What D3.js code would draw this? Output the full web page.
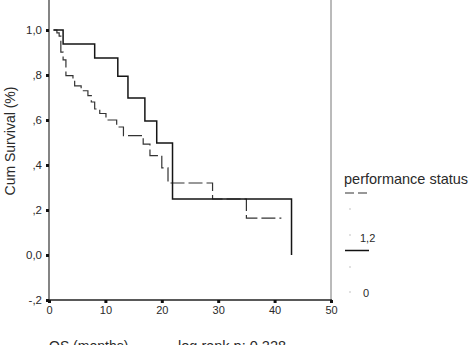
<!DOCTYPE html>
<html>
<head>
<meta charset="utf-8">
<script src="https://cdn.jsdelivr.net/npm/d3@7/dist/d3.min.js"></script>
<style>
  html, body { margin: 0; padding: 0; background: #fff; overflow: hidden; }
  svg { display: block; font-family: "Liberation Sans", Arial, sans-serif; }
</style>
</head>
<body>
<svg id="chart" width="474" height="345"></svg>
<script>
// Kaplan-Meier steps: time of each step (months) and survival after it
const ps0Times = [0.8, 2.5, 8.1, 12.2, 14.0, 17.0, 19.1, 21.9, 43.0];
const ps0Surv  = [1.0, 0.938, 0.876, 0.795, 0.698, 0.596, 0.498, 0.249, 0.0];

const ps12Times = [0.8, 1.4, 1.8, 2.1, 2.5, 3.0, 4.25, 4.55, 5.7, 6.9, 7.5, 8.1, 9.0, 10.1, 12.0, 13.2, 16.7, 17.9, 20.0, 21.1, 29.0, 35.0, 41.2];
const ps12Surv  = [1.0, 0.987, 0.973, 0.902, 0.867, 0.797, 0.775, 0.752, 0.730, 0.708, 0.680, 0.649, 0.629, 0.600, 0.569, 0.531, 0.493, 0.442, 0.387, 0.320, 0.249, 0.164, 0.164];

const yTicks = [-0.2, 0.0, 0.2, 0.4, 0.6, 0.8, 1.0];
const yTickLabels = ["-,2", "0,0", ",2", ",4", ",6", ",8", "1,0"];
const xTicks = [0, 10, 20, 30, 40, 50];

const legendTitle = "performance status";
const groupLabels = ["1,2", "0"];
const yTitle = "Cum Survival (%)";
const xTitle = "OS (months)";
const testNote = "log rank p: 0,228";

const svg = d3.select("#chart");
const plotLeft = 49, plotRight = 331, plotTop = 0, plotBottom = 300;
const ink = "#2a2a2a";

const x = d3.scaleLinear().domain([0, 50]).range([plotLeft, plotRight]);
const y = d3.scaleLinear().domain([-0.2, 1.0]).range([plotBottom, 30]);

// frame: left axis, bottom axis, right edge
svg.append("line").attr("x1", plotLeft).attr("x2", plotLeft).attr("y1", plotTop).attr("y2", plotBottom)
  .attr("stroke", "#333").attr("stroke-width", 1.2);
svg.append("line").attr("x1", plotRight).attr("x2", plotRight).attr("y1", plotTop).attr("y2", plotBottom)
  .attr("stroke", "#777").attr("stroke-width", 1);
svg.append("line").attr("x1", plotLeft).attr("x2", plotRight + 1).attr("y1", plotBottom).attr("y2", plotBottom)
  .attr("stroke", "#222").attr("stroke-width", 1.6);

// y ticks and labels
const yAxis = d3.axisLeft(y).tickValues(yTicks)
  .tickFormat((d, i) => yTickLabels[i]).tickSize(0).tickPadding(7);
const gy = svg.append("g").attr("transform", `translate(${plotLeft},0)`).call(yAxis);
gy.select(".domain").remove();
gy.selectAll("text").attr("font-size", 11.5).attr("fill", ink)
  .attr("font-family", "Liberation Sans, Arial, sans-serif");
gy.selectAll(".tick").append("rect")
  .attr("x", -3).attr("y", -1.5).attr("width", 3).attr("height", 3).attr("fill", "#111");

// x ticks and labels
const xAxis = d3.axisBottom(x).tickValues(xTicks).tickSize(0).tickPadding(6);
const gx = svg.append("g").attr("transform", `translate(0,${plotBottom})`).call(xAxis);
gx.select(".domain").remove();
gx.selectAll("text").attr("font-size", 11).attr("fill", ink)
  .attr("font-family", "Liberation Sans, Arial, sans-serif");
gx.selectAll(".tick").append("rect")
  .attr("x", -1.5).attr("y", 0).attr("width", 3).attr("height", 3).attr("fill", "#111");

// survival curves
const step = d3.line().x(d => x(d[0])).y(d => y(d[1])).curve(d3.curveStepAfter);

svg.append("path")
  .datum(d3.zip(ps12Times, ps12Surv))
  .attr("d", step).attr("fill", "none")
  .attr("stroke", "#333").attr("stroke-width", 1.2)
  .attr("stroke-dasharray", "14,4");

svg.append("path")
  .datum(d3.zip(ps0Times, ps0Surv))
  .attr("d", step).attr("fill", "none")
  .attr("stroke", "#151515").attr("stroke-width", 1.5);

// axis titles
svg.append("text").attr("transform", "translate(15,141) rotate(-90)")
  .attr("text-anchor", "middle").attr("font-size", 14).attr("fill", ink)
  .text(yTitle);
svg.append("text").attr("x", 49).attr("y", 351).attr("font-size", 14).attr("fill", ink)
  .text(xTitle);
svg.append("text").attr("x", 178).attr("y", 351).attr("font-size", 14.5).attr("fill", ink)
  .text(testNote);

// legend
const lg = svg.append("g");
lg.append("text").attr("x", 344).attr("y", 184).attr("font-size", 14.5).attr("fill", ink)
  .text(legendTitle);
lg.append("line").attr("x1", 345).attr("x2", 369).attr("y1", 193).attr("y2", 193)
  .attr("stroke", "#333").attr("stroke-width", 1.2).attr("stroke-dasharray", "9,4");
lg.append("text").attr("x", 360).attr("y", 242).attr("font-size", 11).attr("fill", ink)
  .text(groupLabels[0]);
lg.append("line").attr("x1", 345).attr("x2", 369).attr("y1", 250.5).attr("y2", 250.5)
  .attr("stroke", "#111").attr("stroke-width", 1.5);
lg.append("text").attr("x", 363).attr("y", 297).attr("font-size", 11).attr("fill", ink)
  .text(groupLabels[1]);
[209, 235, 267, 292].forEach(cy => {
  lg.append("circle").attr("cx", 350).attr("cy", cy).attr("r", 0.8).attr("fill", "#bbb");
});
</script>
</body>
</html>
